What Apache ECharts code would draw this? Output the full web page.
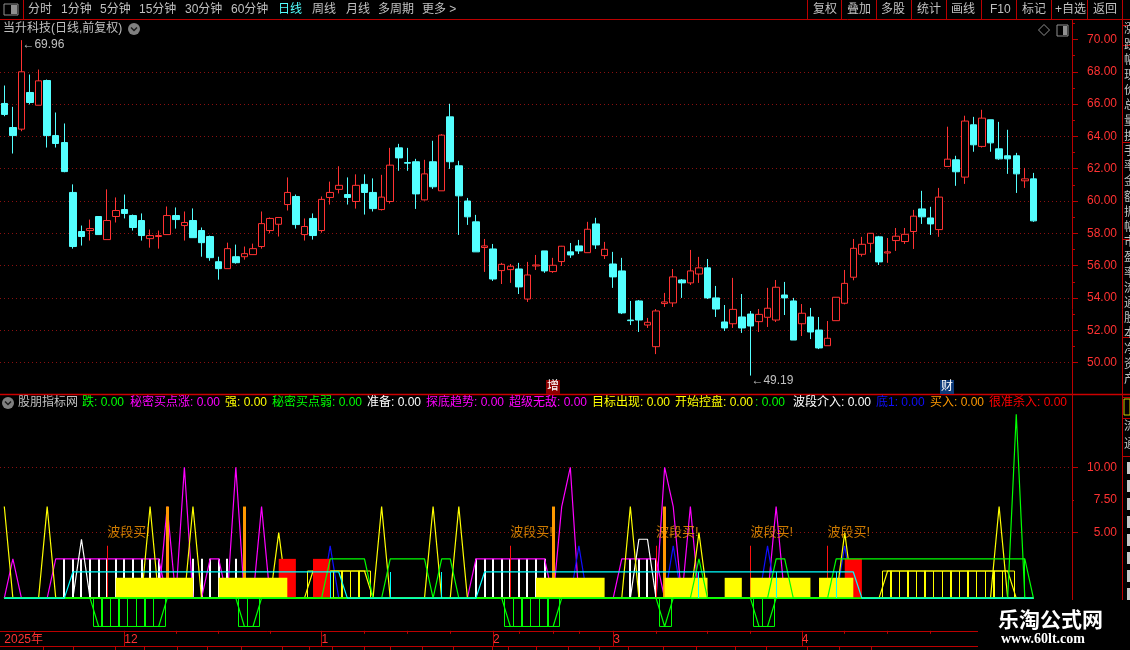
<!DOCTYPE html>
<html><head><meta charset="utf-8">
<style>html,body{margin:0;padding:0;background:#000}#c{width:1130px;height:650px}</style>
<script src="https://cdn.jsdelivr.net/npm/echarts@6/dist/echarts.min.js"></script>
</head><body><div id="c"></div>
<script>
// ---------- price data ----------
const opens=[66.04,64.55,64.45,66.72,65.93,67.46,64.05,63.62,60.53,58.11,58.17,59.04,57.61,59.04,59.47,59.1,58.79,57.67,57.8,57.92,59.1,58.48,58.79,58.17,57.8,56.24,55.81,56.55,56.55,56.68,57.18,58.17,58.56,59.78,60.28,57.92,58.92,58.17,60.22,60.72,60.4,59.97,61.03,60.53,59.47,59.97,63.29,62.38,62.43,60.07,62.43,60.63,65.21,62.18,60.0,58.71,57.12,57.03,55.69,55.75,55.79,53.93,55.98,56.91,55.63,56.25,56.85,57.22,56.8,58.58,56.62,56.1,55.67,52.63,53.81,52.32,50.98,53.65,53.69,55.11,54.93,55.48,55.86,54.0,52.51,52.4,52.82,53.0,52.53,52.8,52.63,54.18,53.81,52.4,52.82,52.01,51.04,52.59,53.67,55.28,56.7,57.38,57.78,56.78,57.55,57.49,58.11,59.51,58.95,58.23,62.14,62.55,61.48,64.72,63.38,65.03,63.23,62.8,62.8,61.25,61.37];
const closes=[65.36,64.05,68.0,66.1,67.44,64.05,63.56,61.82,57.18,57.8,58.29,57.92,58.79,59.41,59.23,58.36,57.86,57.86,57.86,59.1,58.85,58.67,57.73,57.42,56.49,55.81,57.05,56.18,56.74,57.05,58.6,58.92,58.98,60.53,58.54,58.42,57.86,60.1,60.53,60.97,60.22,60.97,60.53,59.53,60.24,62.22,62.67,62.34,60.44,61.68,60.88,64.08,62.43,60.32,59.02,56.85,57.22,55.17,56.08,55.96,54.68,55.42,56.04,55.67,56.02,57.2,56.66,56.91,58.25,57.28,57.01,55.3,53.07,52.59,52.63,52.49,53.19,53.75,55.3,54.93,55.67,55.86,54.0,53.31,52.14,53.29,52.14,52.26,52.98,53.36,54.66,54.0,51.39,53.05,51.89,50.9,51.5,54.04,54.9,57.07,57.32,58.0,56.23,56.85,57.82,57.94,59.06,59.02,58.58,60.24,62.59,61.81,64.95,63.48,65.13,63.6,62.61,62.61,61.68,61.37,58.77];
const lows=[65.25,62.94,64.32,65.98,65.93,63.31,63.31,61.78,57.05,57.24,57.55,57.92,57.61,58.67,58.92,58.17,57.55,57.11,57.05,57.92,58.29,57.55,57.73,56.55,56.3,55.13,55.81,56.12,56.37,56.68,57.05,58.0,57.8,59.41,58.29,57.55,57.61,58.04,59.78,60.47,59.78,59.53,59.16,59.35,59.41,59.84,61.87,61.87,59.51,60.03,60.75,60.63,61.99,57.9,58.52,56.85,55.61,55.05,54.86,54.93,54.24,53.75,55.73,55.55,55.55,55.98,56.48,56.72,56.8,57.03,56.41,54.62,53.0,52.32,51.89,52.14,50.52,53.44,53.44,54.0,54.8,54.93,53.93,52.82,51.95,52.14,51.83,49.19,51.89,52.2,52.51,52.94,51.39,51.64,51.45,50.83,51.04,52.59,53.6,55.09,56.56,56.81,56.04,56.17,56.91,57.34,57.03,58.58,57.9,57.78,62.14,60.94,61.06,63.05,63.31,63.05,62.55,61.68,60.5,60.81,58.71];
const highs=[67.15,65.83,69.96,67.83,68.14,67.52,65.48,64.8,61.03,58.48,58.85,59.04,60.72,60.22,60.4,59.16,59.23,58.23,58.17,59.66,59.6,59.35,59.54,58.36,57.86,56.55,57.42,57.3,57.18,57.36,59.35,58.98,58.98,61.46,60.4,58.92,59.23,60.28,61.2,62.15,61.46,61.65,61.65,61.4,61.62,63.29,63.54,63.29,62.61,62.55,63.73,64.14,66.02,62.49,60.19,59.14,57.65,57.34,56.17,56.1,56.17,56.23,56.66,56.91,56.48,57.22,57.4,57.59,58.71,58.96,57.47,56.85,56.48,53.81,53.87,52.76,53.31,54.31,55.79,55.17,56.97,56.54,56.41,54.74,53.56,55.24,54.24,53.19,53.31,54.62,55.11,54.99,54.0,53.62,53.38,52.82,52.57,54.04,55.73,57.65,57.78,58.0,57.84,57.71,58.33,58.33,59.45,60.63,59.64,60.81,64.6,62.8,65.28,65.21,65.65,65.03,64.9,64.41,62.98,62.05,61.74];
const priceExtremes=[[2,69.96],[87,49.19]];
const priceTicks=[50,52,54,56,58,60,62,64,66,68,70];
const priceGrid=[50,52,54,56,58,60,62,64,66,68];
const priceMinorTicks=[51,53,55,57,59,61,63,65,67,69,71];

// ---------- time axis ----------
const slotCount=125;
const monthStarts=[0,14,37,57,71,93];
const monthNames=['2025年','12','1','2','3','4'];
const weekTicks=[20,25,31,42,47,52,60,64,67,76,82,87,98,103,108];

// ---------- indicator values ----------
const indicatorTicks=[5,7.5,10];
const indicatorGrid=[5,10];
const yellowPeaks=[[0,7],[5,7],[17,7],[22,7],[32,5],[44,7],[50,7],[53,7],[73,7],[81,5],[98,5],[116,7]];
const magentaPeaks=[[1,3],[19,7],[21,10],[27,10],[30,7],[65,7],[66,10],[77,10],[78,7],[80,7],[90,7]];
const whitePeaks=[[9,4.5],[74,4.5],[75,4.5]];
const bluePeaks=[[38,4],[67,4],[78,4],[89,4],[98,4]];
const greenPeaks=[[118,14.05]];
const magentaPlateaus=[[6,18,3],[24,25,3],[55,63,3],[72,76,3]];
const yellowPlateaus=[[36,42,2.07],[103,117,2.07]];
const greenPlateaus=[[38,42,3],[45,49,3],[51,52,3],[81,81,3],[90,91,3],[97,119,3]];
const greenDips=[[11,18,-2.17],[28,29,-2.17],[59,64,-2.17],[77,77,-2.17],[88,89,-2.17]];
const cyanPlateaus=[[8,39,2],[56,99,2]];
const whiteSticks=[7,8,9,10,11,12,13,14,15,16,17,18,22,23,24,25,26,27,55,56,57,58,59,60,61,62,63,73,74,75,76];
const whiteStickValue=3;
const orangeSticks=[19,28,64,77];
const orangeStickValue=7;
const redSticks=[12,59,76,87,96];
const redStickValue=4;
const cyanSticks=[38,45,51,81,90,97];
const cyanStickValue=2;
const greenSticks=[119];
const greenStickValue=3;
const yellowBands=[[13,22,1.55],[25,33,1.55],[62,70,1.55],[77,82,1.55],[84,86,1.55],[87,94,1.55],[95,99,1.55]];
const redBands=[[32,34,3],[36,38,3],[98,100,3]];
const yellowBoxRuns=[[35,42,2.07],[102,117,2.07]];
const greenBoxRuns=[[10,18,-2.17],[27,29,-2.17],[58,64,-2.17],[76,77,-2.17],[87,89,-2.17]];
const signalIndex=[12,59,76,87,96];
const signalLevel=5;
const signalText='波段买!';
const legendNames=['跌','秘密买点涨','强','秘密买点弱','准备','探底趋势','超级无敌','目标出现','开始控盘','','波段介入','底1','买入','很准杀入'];
const legendValues=['0.00','0.00','0.00','0.00','0.00','0.00','0.00','0.00','0.00','0.00','0.00','0.00','0.00','0.00'];
const toolbarLeft=['分时','1分钟','5分钟','15分钟','30分钟','60分钟','日线','周线','月线','多周期','更多 >'];
const toolbarRight=['复权','叠加','多股','统计','画线','F10','标记','+自选','返回'];

// ---------- styling / layout (not data) ----------
const AXIS='#bb0000', RED='#ff3232', CYAN='#54ffff', GRAY='#c0c0c0', DOT='#8a1010';
const FONT='"Liberation Sans","Noto Sans CJK SC",sans-serif';
const legendColors=['#00ff00','#ff00ff','#ffff00','#00ff00','#ffffff','#ff00ff','#ff00ff','#ffff00','#ffff00','#00ff00','#ffffff','#1010ff','#ff9900','#ff0000'];
const legendX=[82,130,225,272,367,426,509,592,675,755,793,876,930,989];
const toolbarLeftX=[28,61,100,139,185,231,278,312,346,378,422];
const toolbarRightX=[813,847,881,917,951,990,1022,1055,1093];
const toolbarSeps=[807,841,876,911,946,981,1016,1051,1087,1122];
const panelRules=[25,45,142,239,337,397,418,456];
const panelChars='涨跌幅现价总量换手率金额振幅市盈率流通股本净资产'.split('');
const panelBlockY=[462,480,498,516,534,552,570,588];
const tabTicks=[43,73,115,144,177,207,241,282,309,332,364,390,422,453,492,508,536,568,599,628,663,696,735,766,807,839,871];

// ---------- builders ----------
const categories=Array.from({length:slotCount},(_,i)=>{const k=monthStarts.indexOf(i);return k>=0?monthNames[k]:'';});
const candles=opens.map((o,i)=>[o,closes[i],lows[i],highs[i]]);
function track(peaks,plateaus){
  const a=opens.map(()=>0);
  (peaks||[]).forEach(p=>{a[p[0]]=p[1];});
  (plateaus||[]).forEach(r=>{for(let i=r[0];i<=r[1];i++)a[i]=r[2];});
  return a;
}
function line(name,color,data,z){
  return {name,type:'line',xAxisIndex:1,yAxisIndex:2,data,showSymbol:false,symbol:'none',z,silent:true,
    lineStyle:{color,width:1.2},itemStyle:{color},animation:false};
}
function sticks(name,color,list,val,w,z){
  return {name,type:'custom',xAxisIndex:1,yAxisIndex:2,z,silent:true,animation:false,
    data:list.map(i=>[i,val]),encode:{x:0,y:1},
    renderItem:(p,api)=>{const a=api.coord([api.value(0),0]),b=api.coord([api.value(0),api.value(1)]);
      const x=Math.round(a[0]-w/2);
      return {type:'rect',shape:{x,y:Math.min(a[1],b[1]),width:w,height:Math.abs(a[1]-b[1])},style:{fill:color}};}};
}
function bands(name,color,list,z){
  return {name,type:'custom',xAxisIndex:1,yAxisIndex:2,z,silent:true,animation:false,
    data:list,encode:{x:[0,1],y:2},
    renderItem:(p,api)=>{const a=api.coord([api.value(0),api.value(2)]),b=api.coord([api.value(1),0]);
      return {type:'rect',shape:{x:a[0],y:a[1],width:b[0]-a[0],height:b[1]-a[1]},style:{fill:color}};}};
}
function boxes(name,color,runs,z){
  const cells=[];
  runs.forEach(r=>{for(let i=r[0];i<r[1];i++)cells.push([i,r[2],i===r[1]-1?1.4:1]);});
  return {name,type:'custom',xAxisIndex:1,yAxisIndex:2,z,silent:true,animation:false,
    data:cells,encode:{x:0,y:1},
    renderItem:(p,api)=>{const a=api.coord([api.value(0),0]),b=api.coord([api.value(0),api.value(1)]);
      const s=api.size([1,0])[0];
      const x=Math.round(a[0]+0.3*s)+0.5,w=Math.round(api.value(2)*s);
      return {type:'rect',shape:{x,y:Math.min(a[1],b[1]),width:w,height:Math.abs(a[1]-b[1])},
        style:{fill:'none',stroke:color,lineWidth:1}};}};
}
function gridLines(values,xi,yi){
  return {type:'line',xAxisIndex:xi,yAxisIndex:yi,data:[],z:1,silent:true,animation:false,
    markLine:{silent:true,symbol:'none',animation:false,label:{show:false},
      lineStyle:{color:DOT,width:1,type:[1,3],opacity:1},
      data:values.map(v=>({yAxis:v}))}};
}

// graphic helpers
const gfx=[];
const Z=60;
function T(text,x,y,fill,o){o=o||{};gfx.push({type:'text',z:o.z||Z,silent:true,style:{text,x,y,fill,
  font:(o.weight||'normal')+' '+(o.size||12)+'px '+(o.family||FONT),textAlign:o.align||'left',textVerticalAlign:'middle'}});}
function L(x1,y1,x2,y2,c,o){o=o||{};gfx.push({type:'line',z:o.z||Z,silent:true,shape:{x1,y1,x2,y2},style:{stroke:c||AXIS,lineWidth:o.w||1}});}
function R(x,y,width,height,fill,o){o=o||{};gfx.push({type:'rect',z:o.z||Z,silent:true,shape:{x,y,width,height},style:{fill:fill||'none',stroke:o.stroke||null,lineWidth:1}});}
function chevron(cx,cy){
  gfx.push({type:'circle',z:Z,silent:true,shape:{cx,cy,r:6},style:{fill:'#808080'}});
  gfx.push({type:'polyline',z:Z+1,silent:true,shape:{points:[[cx-3,cy-1.5],[cx,cy+1.5],[cx+3,cy-1.5]]},style:{stroke:'#1a1a1a',fill:'none',lineWidth:1.5}});
}
// frame
L(0,19.5,1130,19.5);
L(23.5,0,23.5,19);
L(0,394.5,1130,394.5,'#cc0000',{w:1.5});
L(1072.5,19,1072.5,600);
L(1122.5,19,1122.5,600);
L(0,646.5,980,646.5);
R(4,4,14,11,null,{stroke:'#909090'});R(11,5,6,9,'#909090');
toolbarLeft.forEach((s,i)=>T(s,toolbarLeftX[i],9.5,i===6?CYAN:GRAY));
toolbarRight.forEach((s,i)=>T(s,toolbarRightX[i],9.5,GRAY));
toolbarSeps.forEach(x=>L(x+.5,0,x+.5,19));
T('当升科技(日线,前复权)',3,29,GRAY);
chevron(134,29);
gfx.push({type:'polygon',z:Z,silent:true,shape:{points:[[1044,24.5],[1049.5,30],[1044,35.5],[1038.5,30]]},style:{fill:'none',stroke:'#909090',lineWidth:1}});
R(1057,25,11,11,null,{stroke:'#909090'});R(1063,26,4,9,'#909090');
// event badges
R(546,380,14,14,'#8b0000');T('增',553,387,'#fff',{align:'center'});
R(940,380,14,14,'#0d3a78');T('财',947,387,'#fff',{align:'center'});
// indicator legend
chevron(8,403);
T('股朋指标网',18,403,GRAY);
legendNames.forEach((n,i)=>T(n+': '+legendValues[i],legendX[i],403,legendColors[i]));
// side panel remnants
panelRules.forEach(y=>L(1122,y+.5,1130,y+.5));
panelChars.forEach((c,i)=>T(c,1124,30+i*15.2,GRAY,{size:12}));
R(1124,399,6,16,null,{stroke:'#cccc00'});
T('流',1124,427,GRAY);T('通',1124,445,GRAY);
panelBlockY.forEach(y=>R(1127,y,3,12,'#c8c8c8'));
// bottom tab ticks
tabTicks.forEach(x=>L(x+.5,647,x+.5,650));
// watermark on top
R(978,600,152,50,'#000',{z:90});
T('乐淘公式网',998,619,'#fff',{z:91,size:21,weight:'bold',family:'"Noto Sans CJK SC",sans-serif'});
T('www.60lt.com',1001,639,'#fff',{z:91,size:14,weight:'bold',family:'"Liberation Serif",serif'});

const chart=echarts.init(document.getElementById('c'),null,{renderer:'canvas'});
const axisCommon={type:'value',position:'right',scale:false,splitLine:{show:false},axisLine:{show:false}};
chart.setOption({
  animation:false,backgroundColor:'#000',
  textStyle:{fontFamily:FONT},
  grid:[
    {left:0,width:1072,top:23.35,height:371.45,containLabel:false},
    {left:0,width:1072,top:401.9,height:228.9,containLabel:false}
  ],
  xAxis:[
    {type:'category',gridIndex:0,data:categories,show:false,boundaryGap:true},
    {type:'category',gridIndex:1,data:categories,boundaryGap:true,position:'bottom',
      axisLine:{show:true,onZero:false,lineStyle:{color:AXIS,width:1}},
      axisTick:{show:true,alignWithLabel:true,length:16,lineStyle:{color:AXIS},interval:i=>monthStarts.indexOf(i)>0},
      axisLabel:{show:true,interval:0,hideOverlap:false,align:'left',color:RED,fontSize:12,margin:3,
        formatter:v=>v}},
    {type:'category',gridIndex:1,data:categories,boundaryGap:true,position:'bottom',
      axisLine:{show:false,onZero:false},axisLabel:{show:false},
      axisTick:{show:true,alignWithLabel:true,length:3,lineStyle:{color:AXIS},interval:i=>weekTicks.indexOf(i)>=0}}
  ],
  yAxis:[
    Object.assign({},axisCommon,{gridIndex:0,min:48,max:71,
      axisTick:{show:true,length:6,customValues:priceTicks,lineStyle:{color:AXIS}},
      axisLabel:{show:true,customValues:priceTicks,align:'right',margin:45,color:RED,fontSize:12,
        formatter:v=>v.toFixed(2)}}),
    Object.assign({},axisCommon,{gridIndex:0,min:48,max:71,
      axisTick:{show:true,length:3,customValues:priceMinorTicks,lineStyle:{color:AXIS}},axisLabel:{show:false}}),
    Object.assign({},axisCommon,{gridIndex:1,min:-2.5,max:15,
      axisTick:{show:true,length:6,customValues:indicatorGrid,lineStyle:{color:AXIS}},
      axisLabel:{show:true,customValues:indicatorTicks,align:'right',margin:45,color:RED,fontSize:12,
        formatter:v=>v.toFixed(2)}}),
    Object.assign({},axisCommon,{gridIndex:1,min:-2.5,max:15,
      axisTick:{show:true,length:2,customValues:[7.5],lineStyle:{color:AXIS}},axisLabel:{show:false}})
  ],
  series:[
    gridLines(priceGrid,0,0),
    gridLines(indicatorGrid,1,2),
    {name:'K线',type:'candlestick',xAxisIndex:0,yAxisIndex:0,data:candles,barWidth:7,z:5,silent:true,animation:false,
      itemStyle:{color:'#000',color0:CYAN,borderColor:RED,borderColor0:CYAN,borderWidth:1},
      markPoint:{symbol:'circle',symbolSize:0,silent:true,animation:false,
        data:priceExtremes.map(p=>({coord:p,value:p[1]})),
        label:{show:true,position:'right',distance:0,offset:[1,5],color:GRAY,fontSize:12,fontFamily:FONT,
          formatter:d=>'←'+d.value.toFixed(2)}}},
    sticks('准备','#ffffff',whiteSticks,whiteStickValue,2,10),
    line('秘密买点涨','#ff00ff',track(magentaPeaks),11),
    line('探底趋势','#ff00ff',track(null,magentaPlateaus),12),
    line('波段介入','#ffffff',track(whitePeaks),13),
    line('底1','#1010ff',track(bluePeaks),14),
    line('目标出现','#ffff00',track(yellowPeaks),15),
    line('强','#ffff00',track(null,yellowPlateaus),16),
    boxes('开始控盘','#ffff00',yellowBoxRuns,17),
    sticks('买入','#ff9900',orangeSticks,orangeStickValue,3,18),
    sticks('很准杀入','#ff1010',redSticks,redStickValue,1,19),
    bands('杀入区','#ff0000',redBands,20),
    bands('持仓区','#ffff00',yellowBands,21),
    boxes('跌','#00ff00',greenBoxRuns,22),
    line('秘密买点弱','#00ff00',track(greenPeaks),23),
    line('超级无敌','#00ff00',track(null,greenPlateaus),24),
    line('跌势','#00ff00',track(null,greenDips),25),
    sticks('弱','#00ff00',greenSticks,greenStickValue,1,26),
    sticks('青柱','#00ffff',cyanSticks,cyanStickValue,1,27),
    line('趋势','#00ffff',track(null,cyanPlateaus),28),
    {name:'信号',type:'scatter',xAxisIndex:1,yAxisIndex:2,symbolSize:0,z:29,silent:true,animation:false,
      data:signalIndex.map(i=>[i,signalLevel]),
      label:{show:true,position:'right',distance:0,color:'#ff9900',fontSize:13,fontFamily:FONT,formatter:signalText}}
  ],
  graphic:{elements:gfx}
});
</script></body></html>
